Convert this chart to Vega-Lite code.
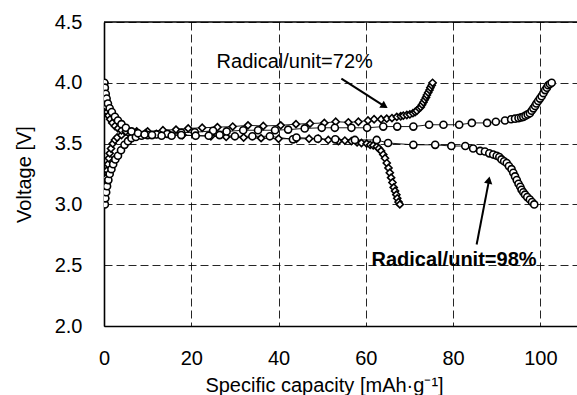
{
  "$schema": "https://vega.github.io/schema/vega-lite/v6.json",
  "autosize": "none",
  "width": 473,
  "height": 304,
  "padding": {"left": 104, "top": 22, "right": 0, "bottom": 69},
  "background": "white",
  "config": {
    "font": "Liberation Sans",
    "view": {"stroke": null},
    "axis": {
      "labelFont": "Liberation Sans", "titleFont": "Liberation Sans",
      "labelFontSize": 20, "titleFontSize": 20, "titleFontWeight": "normal",
      "labelColor": "#000", "titleColor": "#000",
      "ticks": false, "domainColor": "#000", "domainWidth": 1.6,
      "gridColor": "#000", "gridDash": [8, 4], "gridWidth": 1, "gridOpacity": 0.85
    }
  },
  "datasets": {
    "curves": [
      {"run":"c72","sample":"72%","x":0.1,"v":3.0},{"run":"c72","sample":"72%","x":0.2,"v":3.05},{"run":"c72","sample":"72%","x":0.3,"v":3.1},{"run":"c72","sample":"72%","x":0.4,"v":3.16},{"run":"c72","sample":"72%","x":0.55,"v":3.22},{"run":"c72","sample":"72%","x":0.7,"v":3.28},{"run":"c72","sample":"72%","x":0.9,"v":3.33},{"run":"c72","sample":"72%","x":1.1,"v":3.38},{"run":"c72","sample":"72%","x":1.3,"v":3.42},{"run":"c72","sample":"72%","x":1.6,"v":3.46},{"run":"c72","sample":"72%","x":2.0,"v":3.5},{"run":"c72","sample":"72%","x":2.5,"v":3.53},{"run":"c72","sample":"72%","x":3.0,"v":3.55},{"run":"c72","sample":"72%","x":4.0,"v":3.57},{"run":"c72","sample":"72%","x":5.5,"v":3.59},{"run":"c72","sample":"72%","x":7.5,"v":3.6},{"run":"c72","sample":"72%","x":10,"v":3.6},{"run":"c72","sample":"72%","x":13.5,"v":3.61},{"run":"c72","sample":"72%","x":16.5,"v":3.615},{"run":"c72","sample":"72%","x":19.3,"v":3.625},{"run":"c72","sample":"72%","x":22.5,"v":3.63},{"run":"c72","sample":"72%","x":26,"v":3.635},{"run":"c72","sample":"72%","x":29.5,"v":3.64},{"run":"c72","sample":"72%","x":33,"v":3.65},{"run":"c72","sample":"72%","x":36.5,"v":3.645},{"run":"c72","sample":"72%","x":40.5,"v":3.65},{"run":"c72","sample":"72%","x":44,"v":3.66},{"run":"c72","sample":"72%","x":47.2,"v":3.665},{"run":"c72","sample":"72%","x":50.5,"v":3.67},{"run":"c72","sample":"72%","x":53.1,"v":3.68},{"run":"c72","sample":"72%","x":56,"v":3.675},{"run":"c72","sample":"72%","x":58.3,"v":3.68},{"run":"c72","sample":"72%","x":60.5,"v":3.69},{"run":"c72","sample":"72%","x":61.9,"v":3.7},{"run":"c72","sample":"72%","x":63.5,"v":3.7},{"run":"c72","sample":"72%","x":64.8,"v":3.705},{"run":"c72","sample":"72%","x":66,"v":3.71},{"run":"c72","sample":"72%","x":67.1,"v":3.72},{"run":"c72","sample":"72%","x":68,"v":3.725},{"run":"c72","sample":"72%","x":68.6,"v":3.73},{"run":"c72","sample":"72%","x":69.4,"v":3.735},{"run":"c72","sample":"72%","x":70.1,"v":3.74},{"run":"c72","sample":"72%","x":70.8,"v":3.75},{"run":"c72","sample":"72%","x":71.3,"v":3.76},{"run":"c72","sample":"72%","x":71.7,"v":3.77},{"run":"c72","sample":"72%","x":72.2,"v":3.79},{"run":"c72","sample":"72%","x":72.6,"v":3.8},{"run":"c72","sample":"72%","x":72.9,"v":3.82},{"run":"c72","sample":"72%","x":73.2,"v":3.84},{"run":"c72","sample":"72%","x":73.5,"v":3.86},{"run":"c72","sample":"72%","x":73.8,"v":3.88},{"run":"c72","sample":"72%","x":74.0,"v":3.9},{"run":"c72","sample":"72%","x":74.3,"v":3.92},{"run":"c72","sample":"72%","x":74.6,"v":3.94},{"run":"c72","sample":"72%","x":74.8,"v":3.96},{"run":"c72","sample":"72%","x":75.1,"v":3.98},{"run":"c72","sample":"72%","x":75.3,"v":4.0},
      {"run":"d72","sample":"72%","x":0.05,"v":4.0},{"run":"d72","sample":"72%","x":0.1,"v":3.95},{"run":"d72","sample":"72%","x":0.2,"v":3.9},{"run":"d72","sample":"72%","x":0.35,"v":3.85},{"run":"d72","sample":"72%","x":0.5,"v":3.8},{"run":"d72","sample":"72%","x":0.75,"v":3.76},{"run":"d72","sample":"72%","x":1.0,"v":3.73},{"run":"d72","sample":"72%","x":1.4,"v":3.7},{"run":"d72","sample":"72%","x":1.9,"v":3.67},{"run":"d72","sample":"72%","x":2.5,"v":3.645},{"run":"d72","sample":"72%","x":3.2,"v":3.625},{"run":"d72","sample":"72%","x":4.0,"v":3.61},{"run":"d72","sample":"72%","x":5.0,"v":3.6},{"run":"d72","sample":"72%","x":6.2,"v":3.595},{"run":"d72","sample":"72%","x":7.5,"v":3.59},{"run":"d72","sample":"72%","x":9.5,"v":3.585},{"run":"d72","sample":"72%","x":12,"v":3.58},{"run":"d72","sample":"72%","x":15,"v":3.575},{"run":"d72","sample":"72%","x":18,"v":3.57},{"run":"d72","sample":"72%","x":21,"v":3.565},{"run":"d72","sample":"72%","x":24.5,"v":3.56},{"run":"d72","sample":"72%","x":28,"v":3.555},{"run":"d72","sample":"72%","x":32,"v":3.55},{"run":"d72","sample":"72%","x":36,"v":3.545},{"run":"d72","sample":"72%","x":40,"v":3.54},{"run":"d72","sample":"72%","x":44.1,"v":3.54},{"run":"d72","sample":"72%","x":47,"v":3.54},{"run":"d72","sample":"72%","x":49.1,"v":3.54},{"run":"d72","sample":"72%","x":51.4,"v":3.53},{"run":"d72","sample":"72%","x":53.7,"v":3.52},{"run":"d72","sample":"72%","x":55.2,"v":3.525},{"run":"d72","sample":"72%","x":56.7,"v":3.52},{"run":"d72","sample":"72%","x":58,"v":3.51},{"run":"d72","sample":"72%","x":59,"v":3.505},{"run":"d72","sample":"72%","x":60.2,"v":3.5},{"run":"d72","sample":"72%","x":61,"v":3.49},{"run":"d72","sample":"72%","x":61.7,"v":3.485},{"run":"d72","sample":"72%","x":62.5,"v":3.475},{"run":"d72","sample":"72%","x":63.0,"v":3.46},{"run":"d72","sample":"72%","x":63.5,"v":3.44},{"run":"d72","sample":"72%","x":64.0,"v":3.41},{"run":"d72","sample":"72%","x":64.4,"v":3.38},{"run":"d72","sample":"72%","x":64.8,"v":3.34},{"run":"d72","sample":"72%","x":65.2,"v":3.3},{"run":"d72","sample":"72%","x":65.5,"v":3.26},{"run":"d72","sample":"72%","x":65.8,"v":3.22},{"run":"d72","sample":"72%","x":66.1,"v":3.18},{"run":"d72","sample":"72%","x":66.4,"v":3.14},{"run":"d72","sample":"72%","x":66.7,"v":3.11},{"run":"d72","sample":"72%","x":67.0,"v":3.08},{"run":"d72","sample":"72%","x":67.2,"v":3.05},{"run":"d72","sample":"72%","x":67.5,"v":3.02},{"run":"d72","sample":"72%","x":67.8,"v":3.0},
      {"run":"c98","sample":"98%","x":0.2,"v":3.0},{"run":"c98","sample":"98%","x":0.3,"v":3.05},{"run":"c98","sample":"98%","x":0.5,"v":3.1},{"run":"c98","sample":"98%","x":0.7,"v":3.15},{"run":"c98","sample":"98%","x":1.0,"v":3.2},{"run":"c98","sample":"98%","x":1.3,"v":3.25},{"run":"c98","sample":"98%","x":1.7,"v":3.29},{"run":"c98","sample":"98%","x":2.1,"v":3.33},{"run":"c98","sample":"98%","x":2.6,"v":3.37},{"run":"c98","sample":"98%","x":3.2,"v":3.4},{"run":"c98","sample":"98%","x":3.9,"v":3.445},{"run":"c98","sample":"98%","x":4.7,"v":3.49},{"run":"c98","sample":"98%","x":5.5,"v":3.52},{"run":"c98","sample":"98%","x":6.3,"v":3.545},{"run":"c98","sample":"98%","x":7.3,"v":3.555},{"run":"c98","sample":"98%","x":8.6,"v":3.565},{"run":"c98","sample":"98%","x":10,"v":3.57},{"run":"c98","sample":"98%","x":12,"v":3.575},{"run":"c98","sample":"98%","x":14.5,"v":3.58},{"run":"c98","sample":"98%","x":17.7,"v":3.59},{"run":"c98","sample":"98%","x":20.8,"v":3.593},{"run":"c98","sample":"98%","x":25,"v":3.605},{"run":"c98","sample":"98%","x":28.1,"v":3.6},{"run":"c98","sample":"98%","x":31.9,"v":3.61},{"run":"c98","sample":"98%","x":35.3,"v":3.61},{"run":"c98","sample":"98%","x":39.2,"v":3.61},{"run":"c98","sample":"98%","x":42.2,"v":3.615},{"run":"c98","sample":"98%","x":46,"v":3.625},{"run":"c98","sample":"98%","x":49.9,"v":3.63},{"run":"c98","sample":"98%","x":52.9,"v":3.63},{"run":"c98","sample":"98%","x":56.7,"v":3.63},{"run":"c98","sample":"98%","x":60.3,"v":3.63},{"run":"c98","sample":"98%","x":64,"v":3.64},{"run":"c98","sample":"98%","x":67.2,"v":3.64},{"run":"c98","sample":"98%","x":70.9,"v":3.64},{"run":"c98","sample":"98%","x":74.5,"v":3.655},{"run":"c98","sample":"98%","x":77.8,"v":3.655},{"run":"c98","sample":"98%","x":81.4,"v":3.655},{"run":"c98","sample":"98%","x":84.3,"v":3.67},{"run":"c98","sample":"98%","x":87.8,"v":3.67},{"run":"c98","sample":"98%","x":89.8,"v":3.68},{"run":"c98","sample":"98%","x":91.9,"v":3.69},{"run":"c98","sample":"98%","x":93.3,"v":3.7},{"run":"c98","sample":"98%","x":94.2,"v":3.705},{"run":"c98","sample":"98%","x":95.0,"v":3.71},{"run":"c98","sample":"98%","x":95.6,"v":3.715},{"run":"c98","sample":"98%","x":96.1,"v":3.72},{"run":"c98","sample":"98%","x":96.6,"v":3.73},{"run":"c98","sample":"98%","x":97.1,"v":3.74},{"run":"c98","sample":"98%","x":97.6,"v":3.75},{"run":"c98","sample":"98%","x":98.0,"v":3.77},{"run":"c98","sample":"98%","x":98.4,"v":3.79},{"run":"c98","sample":"98%","x":98.8,"v":3.81},{"run":"c98","sample":"98%","x":99.1,"v":3.83},{"run":"c98","sample":"98%","x":99.5,"v":3.85},{"run":"c98","sample":"98%","x":99.9,"v":3.87},{"run":"c98","sample":"98%","x":100.3,"v":3.89},{"run":"c98","sample":"98%","x":100.7,"v":3.915},{"run":"c98","sample":"98%","x":101.1,"v":3.94},{"run":"c98","sample":"98%","x":101.5,"v":3.96},{"run":"c98","sample":"98%","x":101.8,"v":3.98},{"run":"c98","sample":"98%","x":102.2,"v":3.99},{"run":"c98","sample":"98%","x":102.6,"v":4.0},
      {"run":"d98","sample":"98%","x":0.1,"v":4.0},{"run":"d98","sample":"98%","x":0.2,"v":3.96},{"run":"d98","sample":"98%","x":0.4,"v":3.91},{"run":"d98","sample":"98%","x":0.6,"v":3.87},{"run":"d98","sample":"98%","x":0.9,"v":3.83},{"run":"d98","sample":"98%","x":1.3,"v":3.79},{"run":"d98","sample":"98%","x":1.8,"v":3.76},{"run":"d98","sample":"98%","x":2.5,"v":3.72},{"run":"d98","sample":"98%","x":3.2,"v":3.69},{"run":"d98","sample":"98%","x":4.0,"v":3.66},{"run":"d98","sample":"98%","x":5.0,"v":3.63},{"run":"d98","sample":"98%","x":6.3,"v":3.6},{"run":"d98","sample":"98%","x":7.8,"v":3.585},{"run":"d98","sample":"98%","x":9.3,"v":3.575},{"run":"d98","sample":"98%","x":11,"v":3.57},{"run":"d98","sample":"98%","x":13.2,"v":3.565},{"run":"d98","sample":"98%","x":15.5,"v":3.565},{"run":"d98","sample":"98%","x":17.7,"v":3.57},{"run":"d98","sample":"98%","x":21,"v":3.565},{"run":"d98","sample":"98%","x":24,"v":3.565},{"run":"d98","sample":"98%","x":26.5,"v":3.57},{"run":"d98","sample":"98%","x":30,"v":3.56},{"run":"d98","sample":"98%","x":34,"v":3.56},{"run":"d98","sample":"98%","x":38,"v":3.56},{"run":"d98","sample":"98%","x":43.3,"v":3.535},{"run":"d98","sample":"98%","x":44.1,"v":3.55},{"run":"d98","sample":"98%","x":49,"v":3.54},{"run":"d98","sample":"98%","x":53,"v":3.535},{"run":"d98","sample":"98%","x":57.5,"v":3.53},{"run":"d98","sample":"98%","x":62.5,"v":3.53},{"run":"d98","sample":"98%","x":65.1,"v":3.505},{"run":"d98","sample":"98%","x":70.9,"v":3.49},{"run":"d98","sample":"98%","x":75.9,"v":3.49},{"run":"d98","sample":"98%","x":79.6,"v":3.48},{"run":"d98","sample":"98%","x":82.8,"v":3.48},{"run":"d98","sample":"98%","x":84.6,"v":3.46},{"run":"d98","sample":"98%","x":86.2,"v":3.44},{"run":"d98","sample":"98%","x":87.3,"v":3.435},{"run":"d98","sample":"98%","x":88.3,"v":3.42},{"run":"d98","sample":"98%","x":89.2,"v":3.41},{"run":"d98","sample":"98%","x":90.0,"v":3.4},{"run":"d98","sample":"98%","x":90.6,"v":3.39},{"run":"d98","sample":"98%","x":91.1,"v":3.37},{"run":"d98","sample":"98%","x":91.7,"v":3.355},{"run":"d98","sample":"98%","x":92.3,"v":3.34},{"run":"d98","sample":"98%","x":92.8,"v":3.315},{"run":"d98","sample":"98%","x":93.4,"v":3.29},{"run":"d98","sample":"98%","x":93.8,"v":3.26},{"run":"d98","sample":"98%","x":94.2,"v":3.23},{"run":"d98","sample":"98%","x":94.6,"v":3.2},{"run":"d98","sample":"98%","x":95.0,"v":3.17},{"run":"d98","sample":"98%","x":95.4,"v":3.145},{"run":"d98","sample":"98%","x":95.7,"v":3.12},{"run":"d98","sample":"98%","x":96.1,"v":3.1},{"run":"d98","sample":"98%","x":96.5,"v":3.08},{"run":"d98","sample":"98%","x":97.0,"v":3.06},{"run":"d98","sample":"98%","x":97.6,"v":3.04},{"run":"d98","sample":"98%","x":98.1,"v":3.02},{"run":"d98","sample":"98%","x":98.6,"v":3.0}
    ],
    "arrows": [
      {"a":"a1","x":54.4,"v":4.035},{"a":"a1","x":64.6,"v":3.8},
      {"a":"a2","x":85.4,"v":2.67},{"a":"a2","x":88.3,"v":3.21}
    ],
    "heads": [
      {"a":"a1","x":64.3,"v":3.808},
      {"a":"a2","x":88.2,"v":3.2}
    ],
    "notes": [
      {"t":"Radical/unit=72%","x":25.8,"v":4.125,"w":"n"},
      {"t":"Radical/unit=98%","x":61.3,"v":2.49,"w":"b"}
    ]
  },
  "encoding": {
    "x": {"field": "x", "type": "quantitative",
      "scale": {"domain": [0, 108.4], "nice": false, "zero": false},
      "axis": {"values": [0, 20, 40, 60, 80, 100], "labelPadding": 22, "title": "Specific capacity [mAh·g⁻¹]", "titlePadding": 7, "titleX": 220, "titleAnchor": "start", "titleAlign": "center", "grid": true, "labelFlush": false}},
    "y": {"field": "v", "type": "quantitative",
      "scale": {"domain": [2, 4.5], "nice": false, "zero": false},
      "axis": {"values": [2, 2.5, 3, 3.5, 4, 4.5], "format": ".1f", "labelPadding": 22, "title": "Voltage [V]", "titlePadding": 20, "grid": true, "labelFlush": false}}
  },
  "layer": [
    {
      "data": {"name": "curves"},
      "mark": {"type": "line", "color": "#000", "strokeWidth": 0.9, "clip": true},
      "encoding": {"detail": {"field": "run"}}
    },
    {
      "data": {"name": "curves"},
      "mark": {"type": "point", "filled": false, "fill": "white", "fillOpacity": 1, "stroke": "#000", "strokeWidth": 1.6, "opacity": 1, "size": 50, "clip": true},
      "encoding": {
        "shape": {"field": "sample", "type": "nominal", "scale": {"domain": ["72%", "98%"], "range": ["diamond", "circle"]}, "legend": null}
      }
    },
    {
      "data": {"values": [{"v": 4.5}]},
      "mark": {"type": "rule", "color": "#000", "strokeWidth": 1.6},
      "encoding": {"x": null, "y": {"field": "v", "type": "quantitative"}}
    },
    {
      "data": {"name": "arrows"},
      "mark": {"type": "line", "color": "#000", "strokeWidth": 2},
      "encoding": {"detail": {"field": "a"}}
    },
    {
      "data": {"name": "heads"},
      "transform": [{"filter": "datum.a === 'a1'"}],
      "mark": {"type": "point", "shape": "triangle-up", "filled": true, "color": "#000", "opacity": 1, "size": 70, "angle": 123}
    },
    {
      "data": {"name": "heads"},
      "transform": [{"filter": "datum.a === 'a2'"}],
      "mark": {"type": "point", "shape": "triangle-up", "filled": true, "color": "#000", "opacity": 1, "size": 70, "angle": 11}
    },
    {
      "data": {"name": "notes"},
      "transform": [{"filter": "datum.w === 'n'"}],
      "mark": {"type": "text", "align": "left", "baseline": "alphabetic", "fontSize": 20, "font": "Liberation Sans", "color": "#000"},
      "encoding": {"text": {"field": "t"}}
    },
    {
      "data": {"name": "notes"},
      "transform": [{"filter": "datum.w === 'b'"}],
      "mark": {"type": "text", "align": "left", "baseline": "alphabetic", "fontSize": 20, "fontWeight": "bold", "font": "Liberation Sans", "color": "#000"},
      "encoding": {"text": {"field": "t"}}
    }
  ]
}
